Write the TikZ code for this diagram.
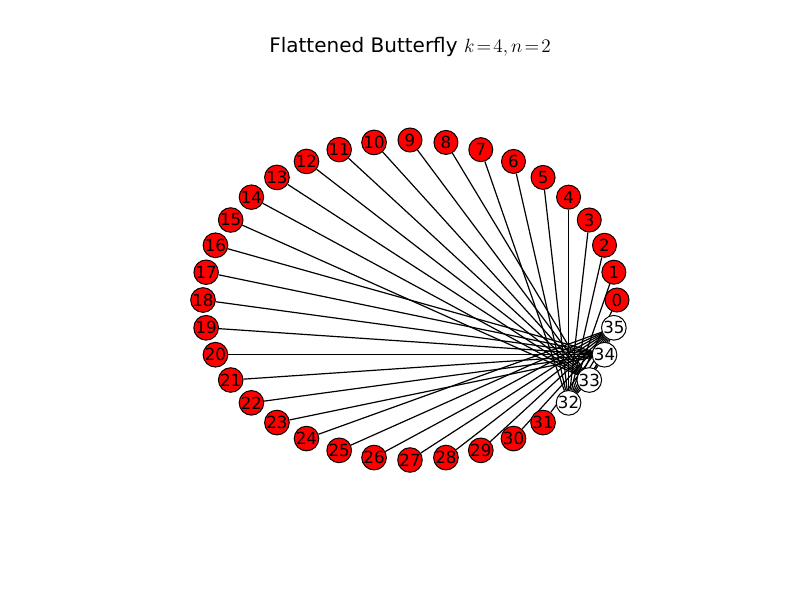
\documentclass[tikz,border=0pt]{standalone}
\usepackage[no-math]{fontspec}
\setmainfont{DejaVu Sans}
\usetikzlibrary{backgrounds}
\tikzset{
  terminal/.style={circle, draw, fill=red, minimum size=18pt, inner sep=0pt,
                   line width=0.75pt, font=\fontsize{12.5}{12.5}\selectfont},
  router/.style={terminal, fill=white},
  link/.style={line width=0.9pt},
}

\begin{document}
\begin{tikzpicture}[x=0.75pt, y=-0.75pt]
  \useasboundingbox (0,0) rectangle (800,600);
  \node[font=\fontsize{15}{15}\selectfont] (title) at (410,47)
    {Flattened Butterfly $k\!=\!4, n\!=\!2$};

  % terminals and routers on the ellipse
  \foreach \i in {0,...,31}
    \node[terminal] (n\i) at ({410+207*cos(10*\i)}, {300-160*sin(10*\i)}) {\i};
  \foreach \i in {32,...,35}
    \node[router] (n\i) at ({410+207*cos(10*\i)}, {300-160*sin(10*\i)}) {\i};

  \begin{pgfonlayer}{background}
    % each router takes eight terminals
    \foreach \i in {0,...,31} {
      \pgfmathtruncatemacro{\rt}{32+int(\i/8)}
      \draw[link] (n\i) -- (n\rt);
    }
    % routers fully connected
    \foreach \a/\b in {32/33,32/34,32/35,33/34,33/35,34/35}
      \draw[link] (n\a) -- (n\b);
  \end{pgfonlayer}
\end{tikzpicture}
\end{document}
